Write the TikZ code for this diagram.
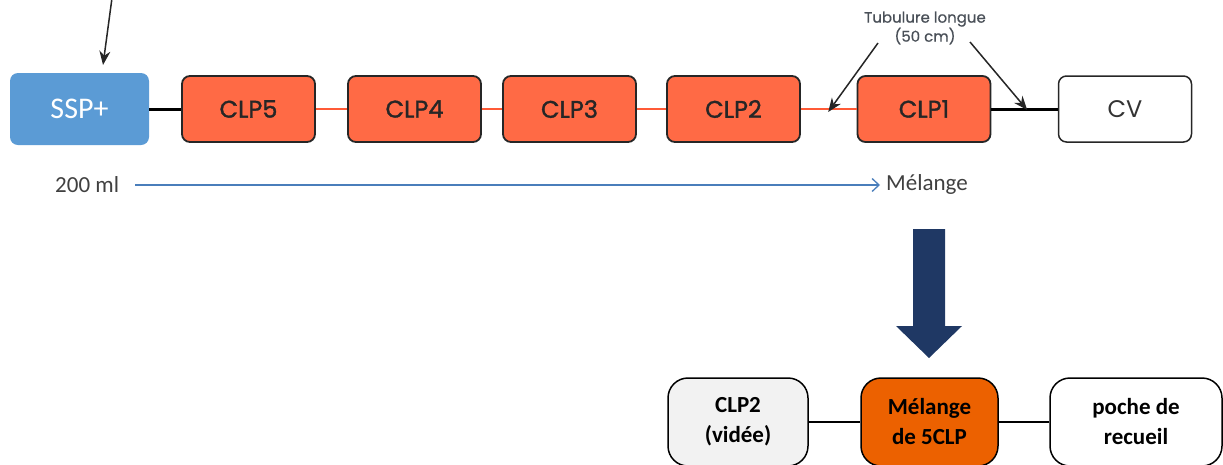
\documentclass[tikz,border=0pt]{standalone}
\usepackage{fontspec}
\setmainfont{Carlito}
\newfontfamily\gothic{Poppins}[FakeBold=1.4]
\newfontfamily\gothiclight{Poppins}
\newfontfamily\gothicmid{Poppins}[FakeBold=0.6]
\usetikzlibrary{arrows.meta,calc}
\definecolor{sspblue}{HTML}{5B9BD5}
\definecolor{clporange}{HTML}{FF6A45}
\definecolor{tubeorange}{HTML}{FF5A36}
\definecolor{mixorange}{HTML}{EC6100}
\definecolor{lightgray}{HTML}{F2F2F2}
\definecolor{navy}{HTML}{1F3864}
\definecolor{flowblue}{HTML}{4A7EBB}
\definecolor{txtgray}{HTML}{404040}
\definecolor{tubtext}{HTML}{4A5058}
\tikzset{
  x=1pt,y=-1pt,
  clpbox/.style={draw=black!85,line width=1.8pt,fill=clporange,rounded corners=8pt,
    minimum width=133pt,minimum height=66pt,inner sep=0pt,
    font=\gothic\fontsize{24}{27}\selectfont,text=black!85},
  cvbox/.style={clpbox,fill=white,line width=1.5pt,font=\gothiclight\fontsize{24}{27}\selectfont,text=black!80},
  botbox/.style={draw=black,line width=1.5pt,rounded corners=20pt,minimum height=88pt,
    inner sep=0pt,align=center,font=\fontsize{23}{30}\selectfont\bfseries},
  thicktube/.style={line width=3pt,black},
  thintube/.style={line width=2.5pt,tubeorange},
  pointer/.style={line width=1.5pt,black!85,-{Stealth[length=14pt,width=11pt]}},
}
\begin{document}
\begin{tikzpicture}
\useasboundingbox (0,0) rectangle (1223,464);
\clip (0,0) rectangle (1223,464);
% top chain
\node[fill=sspblue,rounded corners=8pt,minimum width=139pt,minimum height=72pt,inner sep=0pt,
  text=white,font=\fontsize{30}{34}\selectfont] (ssp) at (79.5,109) {SSP+};
\node[clpbox] (clp5) at (248.5,109) {CLP5};
\node[clpbox] (clp4) at (414.5,109) {CLP4};
\node[clpbox] (clp3) at (569.5,109) {CLP3};
\node[clpbox] (clp2) at (733.5,109) {CLP2};
\node[clpbox] (clp1) at (924,109) {CLP1};
\node[cvbox] (cv) at (1125,109) {CV};
\draw[thicktube] (ssp) -- (clp5);
\draw[thintube] (clp5) -- (clp4);
\draw[thintube] (clp4) -- (clp3);
\draw[thintube] (clp3) -- (clp2);
\draw[thintube] (clp2) -- (clp1);
\draw[thicktube] (clp1) -- (cv);
% incoming arrow
\coordinate (instart) at (112,-2);
\coordinate (inend) at (103,65);
\draw[pointer] (instart) -- (inend);
% tubulure label
\node[font=\gothicmid\fontsize{15}{16}\selectfont,text=tubtext,align=center,inner sep=0pt]
  (tub) at (925,28) {Tubulure longue\\(50 cm)};
\coordinate (tubL) at (878,43);
\coordinate (tubR) at (970,42);
\coordinate (tipL) at ($(clp2.east)!0.49!(clp1.west)$);
\coordinate (tipR) at ($(clp1.east)!0.54!(cv.west)$);
\draw[pointer] (tubL) -- ([yshift=-3pt]tipL);
\draw[pointer] (tubR) -- ([yshift=-1pt]tipR);
% flow line
\node[text=txtgray,font=\fontsize{23}{26}\selectfont,inner sep=0pt,anchor=west] (ml) at (55,185) {200 ml};
\node[text=txtgray,font=\fontsize{23}{26}\selectfont,inner sep=0pt,anchor=west] (mel) at (886,184) {Mélange};
\draw[flowblue,line width=1.6pt,-{Straight Barb[length=7pt,width=13pt,line width=1.3pt]}]
  ([xshift=16pt]ml.east) -- ([xshift=-6pt,yshift=-1pt]mel.west);
% big arrow
\fill[navy] (913,229) -- (945,229) -- (945,326) -- (962,326) -- (929,358) -- (896,326) -- (913,326) -- cycle;
% bottom chain
\node[botbox,fill=lightgray,minimum width=140pt] (vid) at (738,422) {CLP2\\(vidée)};
\node[botbox,fill=mixorange,minimum width=137pt] (mix) at (929.5,422) {Mélange\\de 5CLP};
\node[botbox,fill=white,minimum width=172pt] (poche) at (1136,422) {poche de\\recueil};
\draw[line width=2pt] (vid) -- (mix);
\draw[line width=2pt] (mix) -- (poche);
\end{tikzpicture}
\end{document}
